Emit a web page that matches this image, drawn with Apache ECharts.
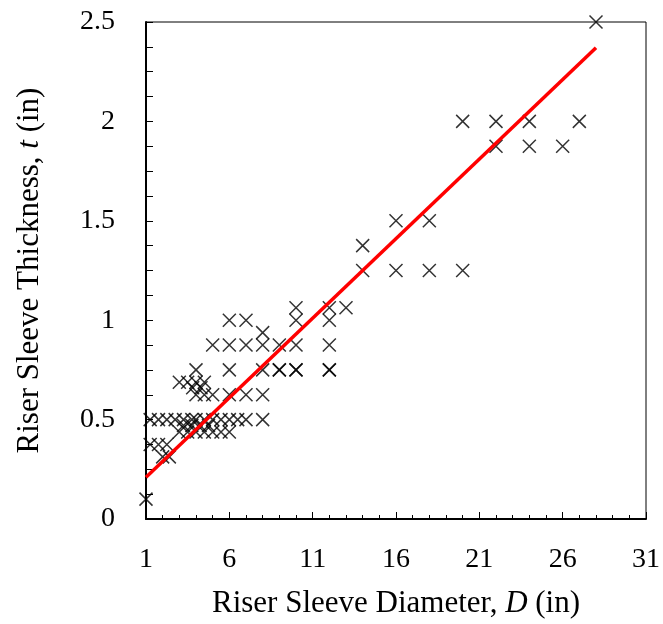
<!DOCTYPE html>
<html>
<head>
<meta charset="utf-8">
<script src="https://cdn.jsdelivr.net/npm/echarts@6/dist/echarts.min.js"></script>
<style>html,body{margin:0;padding:0;background:#fff}#c{width:663px;height:624px}</style>
</head>
<body>
<div id="c"></div>
<script>
// Riser sleeve diameter D (in)
const diameters = [
  1,
  1.25, 1.75, 2.25, 2.75, 3.25, 3.75, 4, 4.5, 5, 5.5, 6, 6.5, 7, 8,
  3, 3.5, 4, 4.5, 5, 5.5, 6,
  3.25, 3.75, 4.25, 4.75,
  1.25, 1.75, 2.25,
  2, 2.4,
  3, 3.5, 4, 4.5,
  3.8, 4.3,
  4, 4.5, 5, 6, 7, 8,
  4, 6, 8, 9, 10, 12, 9, 10, 12,
  5, 6, 7, 8, 9, 10, 12,
  8,
  6, 7, 10, 12,
  10, 12, 13,
  14, 14, 16, 16, 18, 18, 20,
  20, 22, 24, 27, 22, 24, 26, 28
];
// Riser sleeve thickness t (in)
const thickness = [
  0.1,
  0.5, 0.5, 0.5, 0.5, 0.5, 0.5, 0.5, 0.5, 0.5, 0.5, 0.5, 0.5, 0.5, 0.5,
  0.4375, 0.4375, 0.4375, 0.4375, 0.4375, 0.4375, 0.4375,
  0.47, 0.47, 0.47, 0.47,
  0.375, 0.375, 0.375,
  0.3125, 0.3125,
  0.6875, 0.6875, 0.6875, 0.6875,
  0.66, 0.66,
  0.625, 0.625, 0.625, 0.625, 0.625, 0.625,
  0.75, 0.75, 0.75, 0.75, 0.75, 0.75, 0.75, 0.75, 0.75,
  0.875, 0.875, 0.875, 0.875, 0.875, 0.875, 0.875,
  0.9375,
  1.0, 1.0, 1.0, 1.0,
  1.0625, 1.0625, 1.0625,
  1.375, 1.25, 1.5, 1.25, 1.5, 1.25, 1.25,
  2, 2, 2, 2, 1.875, 1.875, 1.875, 2.5
];
// Linear trend line endpoints
const trendD = [1, 28];
const trendT = [0.21, 2.37];

const xMin = 1, xMax = 31, xStep = 5;
const yMin = 0, yMax = 2.5, yStep = 0.5;

const pts = diameters.map((d, i) => [d, thickness[i]]);
const trend = trendD.map((d, i) => [d, trendT[i]]);

const FONT = 'Liberation Serif';
const FS = 28;
const NFS = 31;
const chart = echarts.init(document.getElementById('c'), null, {renderer: 'canvas'});
chart.setOption({
  animation: false,
  backgroundColor: '#fff',
  grid: {left: 146, right: 14, top: 22, bottom: 102, show: true, borderColor: '#000', borderWidth: 1, backgroundColor: 'transparent'},
  xAxis: {
    type: 'value', min: xMin, max: xMax, interval: xStep,
    axisLine: {onZero: false, lineStyle: {color: '#000', width: 2}},
    axisTick: {inside: true, length: 7, lineStyle: {color: '#000', width: 1}},
    minorTick: {show: true, splitNumber: 5, length: 4, lineStyle: {color: '#000', width: 1}},
    splitLine: {show: false},
    axisLabel: {color: '#000', fontFamily: FONT, fontSize: FS, margin: 27},
    name: 'Riser Sleeve Diameter, {i|D} (in)',
    nameLocation: 'middle', nameGap: 69,
    nameTextStyle: {color: '#000', fontFamily: FONT, fontSize: NFS,
      rich: {i: {fontStyle: 'italic', fontFamily: FONT, fontSize: NFS, color: '#000'}}}
  },
  yAxis: {
    type: 'value', min: yMin, max: yMax, interval: yStep,
    axisLine: {onZero: false, lineStyle: {color: '#000', width: 2}},
    axisTick: {inside: true, length: 7, lineStyle: {color: '#000', width: 1}},
    minorTick: {show: true, splitNumber: 4, length: 7, lineStyle: {color: '#000', width: 1}},
    splitLine: {show: false},
    axisLabel: {color: '#000', fontFamily: FONT, fontSize: FS, margin: 31},
    name: 'Riser Sleeve Thickness, {i|t} (in)',
    nameLocation: 'middle', nameGap: 101,
    nameTextStyle: {color: '#000', fontFamily: FONT, fontSize: NFS,
      rich: {i: {fontStyle: 'italic', fontFamily: FONT, fontSize: NFS, color: '#000'}}}
  },
  series: [
    {
      type: 'scatter', data: pts,
      symbol: 'path://M0,0L10,10M10,0L0,10', symbolSize: 13,
      itemStyle: {color: 'rgba(0,0,0,0)', borderColor: '#000', borderWidth: 1.5},
      z: 2
    },
    {
      type: 'line', data: trend, showSymbol: false, symbol: 'none',
      lineStyle: {color: '#ff0000', width: 3.5}, z: 3
    }
  ]
});
</script>
</body>
</html>
